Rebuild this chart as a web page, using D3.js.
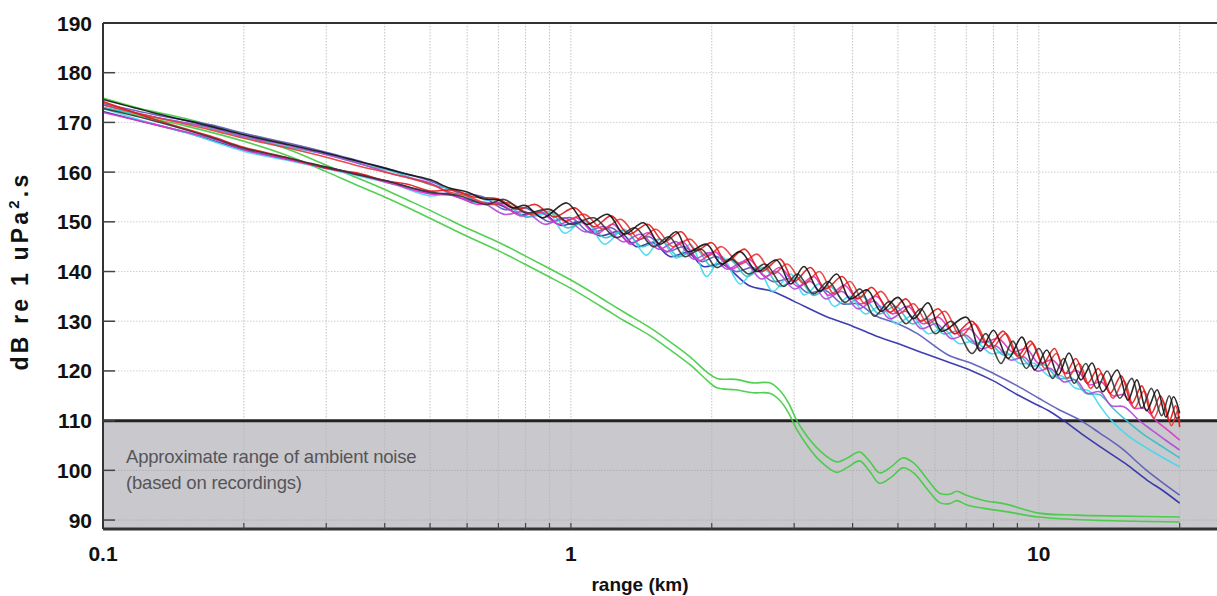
<!DOCTYPE html>
<html>
<head>
<meta charset="utf-8">
<script src="https://cdn.jsdelivr.net/npm/d3@7/dist/d3.min.js"></script>
<style>
  body { margin: 0; background: #fff; }
  svg { display: block; font-family: 'Liberation Sans', Arial, sans-serif; }
</style>
</head>
<body>
<div id="chart"></div>
<script>
// tick values
const xMajor = [0.1, 1, 10];
const xMinor = [0.2, 0.3, 0.4, 0.5, 0.6, 0.7, 0.8, 0.9, 2, 3, 4, 5, 6, 7, 8, 9, 20];
const yTicks = [90, 100, 110, 120, 130, 140, 150, 160, 170, 180, 190];
const noiseLevel = 110;
const noiseText = ['Approximate range of ambient noise', '(based on recordings)'];

// [range km, dB re 1 uPa^2.s]
const black1 = [[0.1,174.6],[0.13,171.8],[0.17,169.2],[0.2,167.5],[0.25,165.5],[0.3,163.8],[0.35,162.2],[0.4,160.8],[0.45,159.5],[0.5,158.5],[0.55,156.8],[0.6,156],[0.65,154.6],[0.7,154.4],[0.75,152.8],[0.8,153.3],[0.87,150.8],[0.98,153.8],[1.08,149.5],[1.2,151.5],[1.3,147.5],[1.43,149.8],[1.55,145.5],[1.68,148],[1.78,144],[1.95,145.5],[2.1,141.5],[2.3,144],[2.5,140],[2.75,142.3],[2.95,137.5],[3.15,141],[3.4,136],[3.7,139.5],[3.95,134.5],[4.3,136.3],[4.6,132],[5.0,134.8],[5.4,130.5],[5.8,133.7],[6.2,128],[7.0,130.8],[7.5,124],[8.0,128.2],[8.6,122.5],[9.2,126.8],[9.8,120.2],[10.4,124.2],[11.0,119.2],[11.6,123.6],[12.3,118.2],[13.0,121.6],[13.7,115.8],[14.7,120.2],[15.5,114.1],[16.2,118.2],[17.0,112],[17.9,116.2],[18.7,110.7],[19.4,114.8],[20,111.5]];
const black2 = [[0.1,172.8],[0.13,170.2],[0.17,167],[0.2,164.8],[0.25,162.8],[0.3,161],[0.35,159.5],[0.4,158.3],[0.45,157],[0.5,156],[0.58,155.2],[0.66,153.5],[0.72,154.5],[0.8,151.8],[0.9,152.5],[1.0,149.5],[1.12,150.8],[1.25,146.8],[1.37,148.8],[1.5,145],[1.62,147],[1.75,143],[1.9,144.5],[2.05,140.8],[2.2,142.5],[2.4,139.5],[2.6,141.5],[2.85,137],[3.05,139.5],[3.3,135.5],[3.55,138],[3.85,133.8],[4.15,136.5],[4.45,131],[4.8,134],[5.2,129.5],[5.6,132.5],[6.0,127.5],[6.5,130],[7.2,123.5],[7.7,127.5],[8.3,121.5],[8.8,126],[9.4,120.5],[10.0,124.5],[10.7,118.5],[11.3,122.5],[11.9,117.5],[12.6,121.5],[13.3,116.5],[14.0,120],[14.9,114.5],[15.8,118.5],[16.6,112.5],[17.4,116.5],[18.3,111],[19.0,115],[19.7,110.5],[20,110.8]];
const red1 = [[0.1,174.2],[0.13,170.5],[0.17,167.2],[0.2,165],[0.25,162.8],[0.3,160.8],[0.35,159.8],[0.4,158.3],[0.45,157.5],[0.5,156.2],[0.56,156.4],[0.62,155],[0.7,154.6],[0.77,152.5],[0.84,153.5],[0.92,151],[1.02,152.8],[1.12,149],[1.22,151.2],[1.33,147.5],[1.46,149.5],[1.58,146],[1.72,148],[1.85,144.2],[2.0,145.8],[2.15,142],[2.35,144.5],[2.55,140],[2.8,142.5],[3.0,138],[3.25,140.8],[3.5,136.5],[3.8,139],[4.1,134.5],[4.4,136.8],[4.8,131.8],[5.2,134.5],[5.6,130],[6.1,132.5],[6.6,127.5],[7.2,130],[7.8,125],[8.4,128],[9.0,123],[9.6,126],[10.2,121.5],[10.8,124.5],[11.4,119.5],[12.0,122.5],[12.7,117.5],[13.4,120.5],[14.2,115.5],[15.0,119],[15.8,113.5],[16.6,117],[17.4,111.5],[18.2,115],[19.0,110],[19.6,113],[20,108.7]];
const red2 = [[0.1,173.5],[0.13,171],[0.17,168.5],[0.2,166.8],[0.25,164.8],[0.3,163],[0.35,161.3],[0.4,160],[0.45,158.8],[0.5,157.6],[0.55,156],[0.6,155.2],[0.67,153.5],[0.74,153.8],[0.82,151.5],[0.9,152.5],[0.97,150.2],[1.07,151.5],[1.17,148.5],[1.28,150.5],[1.4,146.5],[1.52,148.5],[1.65,145],[1.8,146.5],[1.95,143],[2.1,145],[2.3,141.5],[2.5,143.5],[2.7,139.5],[2.9,141.5],[3.15,137.5],[3.4,140],[3.65,135.5],[3.95,138],[4.25,133.5],[4.6,136],[5.0,131.5],[5.4,133.5],[5.8,129.5],[6.3,132],[6.8,127],[7.3,129.5],[7.9,124.5],[8.5,127.5],[9.1,122.5],[9.7,125.5],[10.3,120.5],[10.9,123.5],[11.5,118.5],[12.2,121.5],[12.9,116.5],[13.6,119.5],[14.4,114.5],[15.2,118],[16.0,112.5],[16.8,116],[17.6,110.5],[18.4,114],[19.2,109],[19.8,112],[20,109.5]];
const magenta = [[0.1,172],[0.13,169.5],[0.17,166.8],[0.2,164.5],[0.25,162.5],[0.3,160.8],[0.36,159.2],[0.42,157.5],[0.5,155.6],[0.56,155.3],[0.63,153.5],[0.7,153.8],[0.78,151.2],[0.86,152],[0.94,149.5],[1.03,150.8],[1.13,147.5],[1.23,149.5],[1.34,145.5],[1.46,147.8],[1.6,144],[1.73,146],[1.88,142.2],[2.03,144],[2.2,140.5],[2.4,142.5],[2.6,139],[2.8,140.8],[3.05,137],[3.3,139],[3.55,135.2],[3.85,137.2],[4.15,133.5],[4.5,135],[4.85,131.5],[5.25,133],[5.65,129.5],[6.1,130.8],[6.6,127.5],[7.1,128.5],[7.6,125.8],[8.2,126.5],[8.8,123.8],[9.4,124.5],[10.0,121.5],[10.7,122.2],[11.4,119.5],[12.1,120],[12.8,117.2],[13.6,117.8],[14.4,115],[15.2,115.2],[16.0,112.5],[16.8,112.5],[17.8,110],[18.8,108.2],[20,106.1]];
const violet = [[0.1,173.5],[0.13,171],[0.17,169],[0.2,167.2],[0.25,165.3],[0.3,163.5],[0.36,161.5],[0.42,159.5],[0.5,157.8],[0.57,155],[0.65,153.8],[0.72,151.5],[0.8,152],[0.88,149.5],[0.97,150.8],[1.07,148],[1.18,149],[1.29,146],[1.41,147.5],[1.54,144.5],[1.68,146],[1.83,142.5],[1.98,143.8],[2.15,140.5],[2.35,142],[2.55,138.5],[2.75,140],[3.0,136.5],[3.25,138],[3.5,134.5],[3.8,136],[4.1,132.5],[4.45,134],[4.8,130.5],[5.2,132],[5.6,128.5],[6.05,129.5],[6.5,126.5],[7.0,127.2],[7.5,124.5],[8.1,125],[8.7,122.2],[9.3,122.8],[9.9,120],[10.6,120.5],[11.3,117.8],[12.0,118.2],[12.7,115.5],[13.5,115.8],[14.3,113],[15.2,112.8],[16.4,110],[17.5,108],[18.7,106],[20,104.1]];
const teal = [[0.1,173],[0.13,171],[0.17,168.8],[0.2,167],[0.25,165],[0.3,163.6],[0.36,161.5],[0.42,160],[0.5,157.5],[0.57,156.3],[0.65,153.5],[0.72,153.8],[0.8,151],[0.9,152],[0.98,148.8],[1.08,150],[1.18,146.8],[1.3,148.2],[1.42,145],[1.55,146.5],[1.7,143],[1.85,144.5],[2.0,141],[2.18,142.5],[2.38,139],[2.58,140.8],[2.8,137],[3.05,138.8],[3.3,135.2],[3.58,137],[3.88,133.5],[4.2,135],[4.55,131.5],[4.95,133],[5.35,129.5],[5.8,130.5],[6.25,127.5],[6.75,128],[7.25,125.5],[7.8,125.8],[8.4,123.2],[9.0,123.5],[9.6,121],[10.3,121.2],[11.0,118.5],[11.8,118.5],[12.6,115.5],[13.5,115.2],[14.4,112.5],[15.4,110],[16.6,107.5],[18.2,105],[20,102.5]];
const cyan = [[0.1,172.8],[0.12,170.5],[0.15,168],[0.2,164.2],[0.25,162.3],[0.3,160.7],[0.36,159],[0.42,157.5],[0.5,155.2],[0.55,155.8],[0.62,153.8],[0.7,154.5],[0.8,151],[0.9,151.5],[0.97,147.7],[1.07,150.5],[1.18,145.5],[1.3,148.5],[1.45,143.3],[1.55,146.5],[1.68,142.7],[1.8,145.5],[1.95,139],[2.1,143],[2.3,137.5],[2.5,141],[2.7,136],[2.95,139.5],[3.15,135.3],[3.4,137.5],[3.65,133],[3.95,135],[4.25,131.5],[4.6,133],[4.95,129.5],[5.35,131],[5.8,127.5],[6.25,128.5],[6.75,125.5],[7.3,126],[7.9,123.5],[8.5,123.8],[9.1,121.5],[9.8,121.5],[10.5,119],[11.2,119],[12.0,116.5],[12.8,116],[13.5,113],[14.3,110],[15.5,107],[17.5,103.8],[20,100.7]];
const slate = [[0.1,173.8],[0.13,171.5],[0.17,169.5],[0.2,167.8],[0.25,165.8],[0.3,164],[0.36,162],[0.42,160.3],[0.5,158.2],[0.57,156],[0.65,155],[0.72,152.5],[0.8,152.8],[0.9,150],[1.0,150.8],[1.1,147.8],[1.22,148.8],[1.34,145.8],[1.47,147],[1.6,144],[1.75,145],[1.9,142],[2.05,143],[2.25,140],[2.45,140.8],[2.7,138],[2.95,138.5],[3.2,135.8],[3.5,136.2],[3.8,133.5],[4.1,133.5],[4.5,131],[5.0,129.5],[5.5,127.5],[6.4,123.2],[7.2,121.5],[8.0,119.5],[9.0,117],[10.0,114.5],[11.0,112.3],[12.3,110],[13.5,107.5],[15.0,104.5],[17.0,100],[20,95]];
const navy = [[0.1,172.2],[0.12,170.3],[0.15,168],[0.2,164.5],[0.25,162.5],[0.3,161],[0.36,159.3],[0.42,157.8],[0.5,155.8],[0.55,155.5],[0.62,154],[0.7,153.5],[0.78,151.5],[0.87,151.8],[0.95,149.3],[1.05,150],[1.15,147.2],[1.27,148],[1.38,145],[1.5,145.8],[1.63,143],[1.78,143.8],[1.92,141],[2.1,141.5],[2.4,137.2],[2.7,136],[3.0,134],[3.5,131],[4.0,129],[4.5,127],[5.0,125.5],[5.7,123.5],[6.4,121.8],[7.2,120],[8.0,118],[9.0,115.2],[10.0,113],[10.5,112],[11.3,110],[12.5,107],[14.0,103.8],[15.5,101],[17.0,98.1],[18.5,95.8],[20,93.4]];
const greenUpper = [[0.1,174.9],[0.12,172.8],[0.15,170.8],[0.2,167.5],[0.25,164.5],[0.3,161.4],[0.35,158.8],[0.4,156.5],[0.45,154.3],[0.5,152.3],[0.55,150.4],[0.6,148.7],[0.7,145.9],[0.8,143.1],[0.9,140.6],[1.0,138.3],[1.1,136],[1.2,133.8],[1.3,131.8],[1.47,128.8],[1.6,126.4],[1.8,122.8],[1.95,119.8],[2.05,118.5],[2.25,118.3],[2.45,117.6],[2.66,117.6],[2.8,116],[2.92,113.5],[3.04,110],[3.2,106.8],[3.4,104],[3.7,101.7],[3.9,102.5],[4.14,103.7],[4.35,101.8],[4.57,99.5],[4.85,100.8],[5.12,102.5],[5.4,101.5],[5.8,98],[6.14,95.4],[6.45,95.2],[6.68,95.8],[7.0,95],[7.59,94],[8.5,93.2],[10,91.4],[12,91],[15,90.8],[20,90.6]];
const greenLower = [[0.1,173],[0.12,171.3],[0.15,169.3],[0.2,166.2],[0.25,163.2],[0.3,160.1],[0.35,157.3],[0.4,155],[0.45,152.8],[0.5,150.7],[0.55,148.8],[0.6,147.1],[0.7,144.2],[0.8,141.4],[0.9,138.9],[1.0,136.6],[1.1,134.3],[1.2,132.1],[1.3,130.1],[1.47,127.2],[1.6,124.8],[1.8,121.2],[1.95,118.2],[2.05,116.6],[2.25,116.2],[2.45,115.6],[2.66,115.5],[2.8,114],[2.92,111.5],[3.04,108.2],[3.2,105],[3.4,102],[3.7,99.6],[3.9,100.6],[4.14,101.9],[4.35,99.8],[4.57,97.4],[4.85,98.7],[5.12,100.5],[5.4,99.5],[5.8,96],[6.14,93.5],[6.45,93.3],[6.68,93.9],[7.0,93.1],[7.59,92.4],[8.5,91.7],[10,90.6],[12,90.1],[15,89.8],[20,89.6]];

const series = [
  {values: greenLower, color: '#3ecc3e'},
  {values: greenUpper, color: '#3ecc3e'},
  {values: navy, color: '#2a2aa8'},
  {values: slate, color: '#5858b8'},
  {values: cyan, color: '#40d8f0'},
  {values: teal, color: '#30c0c8'},
  {values: violet, color: '#b048d8'},
  {values: magenta, color: '#e030c8'},
  {values: red2, color: '#e83838'},
  {values: red1, color: '#e01818'},
  {values: black2, color: '#333333'},
  {values: black1, color: '#111111'}
];

const width = 1217;
const height = 596;
const margin = {top: 23, right: -8, bottom: 67, left: 103};
const innerW = width - margin.left - margin.right;
const innerH = height - margin.top - margin.bottom;

const svg = d3.select('#chart')
  .append('svg')
  .attr('width', width)
  .attr('height', height);

const x = d3.scaleLog().domain([0.1, 25]).range([0, innerW]);
const y = d3.scaleLinear().domain([88.2, 190]).range([innerH, 0]);

const g = svg.append('g').attr('transform', `translate(${margin.left},${margin.top})`);

svg.append('defs').append('clipPath').attr('id', 'clip')
  .append('rect').attr('width', innerW).attr('height', innerH);

// ambient noise band
g.append('rect')
  .attr('x', 0)
  .attr('y', y(noiseLevel))
  .attr('width', innerW)
  .attr('height', innerH - y(noiseLevel))
  .attr('fill', '#c9c8cc');

// grid
g.selectAll('.vgrid')
  .data(xMajor.concat(xMinor).filter(d => d > 0.1))
  .enter()
  .append('line')
  .attr('class', 'vgrid')
  .attr('x1', d => x(d))
  .attr('x2', d => x(d))
  .attr('y1', 0)
  .attr('y2', innerH)
  .attr('stroke', '#b4b4b4')
  .attr('stroke-width', 0.8)
  .attr('stroke-dasharray', '1.5,1.5');

g.selectAll('.hgrid')
  .data(yTicks.filter(d => d !== 190 && d !== noiseLevel))
  .enter()
  .append('line')
  .attr('class', 'hgrid')
  .attr('x1', 0)
  .attr('x2', innerW)
  .attr('y1', d => y(d))
  .attr('y2', d => y(d))
  .attr('stroke', d => (d < noiseLevel ? '#aaaaaa' : '#c4c4c4'))
  .attr('stroke-width', 0.8)
  .attr('stroke-dasharray', '1.5,1.5');

// threshold line
g.append('line')
  .attr('x1', 0)
  .attr('x2', innerW)
  .attr('y1', y(noiseLevel))
  .attr('y2', y(noiseLevel))
  .attr('stroke', '#222')
  .attr('stroke-width', 3);

const noiseLabel = g.append('text')
  .attr('x', 23)
  .attr('y', y(noiseLevel) + 42)
  .attr('fill', '#555559')
  .attr('font-size', 18.5)
  .attr('letter-spacing', -0.2);

noiseLabel.selectAll('tspan')
  .data(noiseText)
  .enter()
  .append('tspan')
  .attr('x', 23)
  .attr('dy', (d, i) => (i === 0 ? 0 : 26))
  .text(d => d);

// curves
const linePath = d3.line()
  .x(d => x(d[0]))
  .y(d => y(d[1]))
  .curve(d3.curveCatmullRom.alpha(0.5));

g.append('g')
  .attr('clip-path', 'url(#clip)')
  .selectAll('path')
  .data(series)
  .enter()
  .append('path')
  .attr('fill', 'none')
  .attr('stroke', d => d.color)
  .attr('stroke-width', 1.6)
  .attr('stroke-opacity', 0.9)
  .attr('d', d => linePath(d.values));

// axes frame
g.append('line')
  .attr('x1', 0).attr('x2', innerW)
  .attr('y1', 0).attr('y2', 0)
  .attr('stroke', '#333').attr('stroke-width', 2);
g.append('line')
  .attr('x1', 0).attr('x2', 0)
  .attr('y1', 0).attr('y2', innerH)
  .attr('stroke', '#333').attr('stroke-width', 2);
g.append('line')
  .attr('x1', 0).attr('x2', innerW)
  .attr('y1', innerH).attr('y2', innerH)
  .attr('stroke', '#333').attr('stroke-width', 3);

// y ticks
const yAxis = g.append('g');
yAxis.selectAll('line')
  .data(yTicks.filter(d => d !== 190))
  .enter()
  .append('line')
  .attr('x1', 0)
  .attr('x2', 12)
  .attr('y1', d => y(d))
  .attr('y2', d => y(d))
  .attr('stroke', '#444')
  .attr('stroke-width', 1.5);
yAxis.selectAll('text')
  .data(yTicks)
  .enter()
  .append('text')
  .attr('x', -11)
  .attr('y', d => y(d))
  .attr('dy', '0.36em')
  .attr('text-anchor', 'end')
  .attr('font-size', 21)
  .attr('font-weight', 'bold')
  .attr('fill', '#111')
  .text(d => d);

// x ticks
const xAxis = g.append('g').attr('transform', `translate(0,${innerH})`);
xAxis.selectAll('line')
  .data(xMajor.concat(xMinor).filter(d => d > 0.1))
  .enter()
  .append('line')
  .attr('x1', d => x(d))
  .attr('x2', d => x(d))
  .attr('y1', 0)
  .attr('y2', -6)
  .attr('stroke', '#444')
  .attr('stroke-width', 1.2);
xAxis.selectAll('text')
  .data(xMajor)
  .enter()
  .append('text')
  .attr('x', d => x(d))
  .attr('y', 32)
  .attr('text-anchor', 'middle')
  .attr('font-size', 21)
  .attr('font-weight', 'bold')
  .attr('fill', '#111')
  .text(d => d);

// axis titles
svg.append('text')
  .attr('x', 640)
  .attr('y', 591)
  .attr('text-anchor', 'middle')
  .attr('font-size', 19)
  .attr('font-weight', 'bold')
  .attr('fill', '#111')
  .text('range (km)');

const yTitle = svg.append('text')
  .attr('transform', 'translate(28,271) rotate(-90)')
  .attr('text-anchor', 'middle')
  .attr('font-size', 23)
  .attr('font-weight', 'bold')
  .attr('letter-spacing', 3.2)
  .attr('fill', '#111');
yTitle.append('tspan').text('dB re 1 uPa');
yTitle.append('tspan').attr('dy', -9).attr('font-size', 15).text('2');
yTitle.append('tspan').attr('dy', 9).text('.s');
</script>
</body>
</html>
